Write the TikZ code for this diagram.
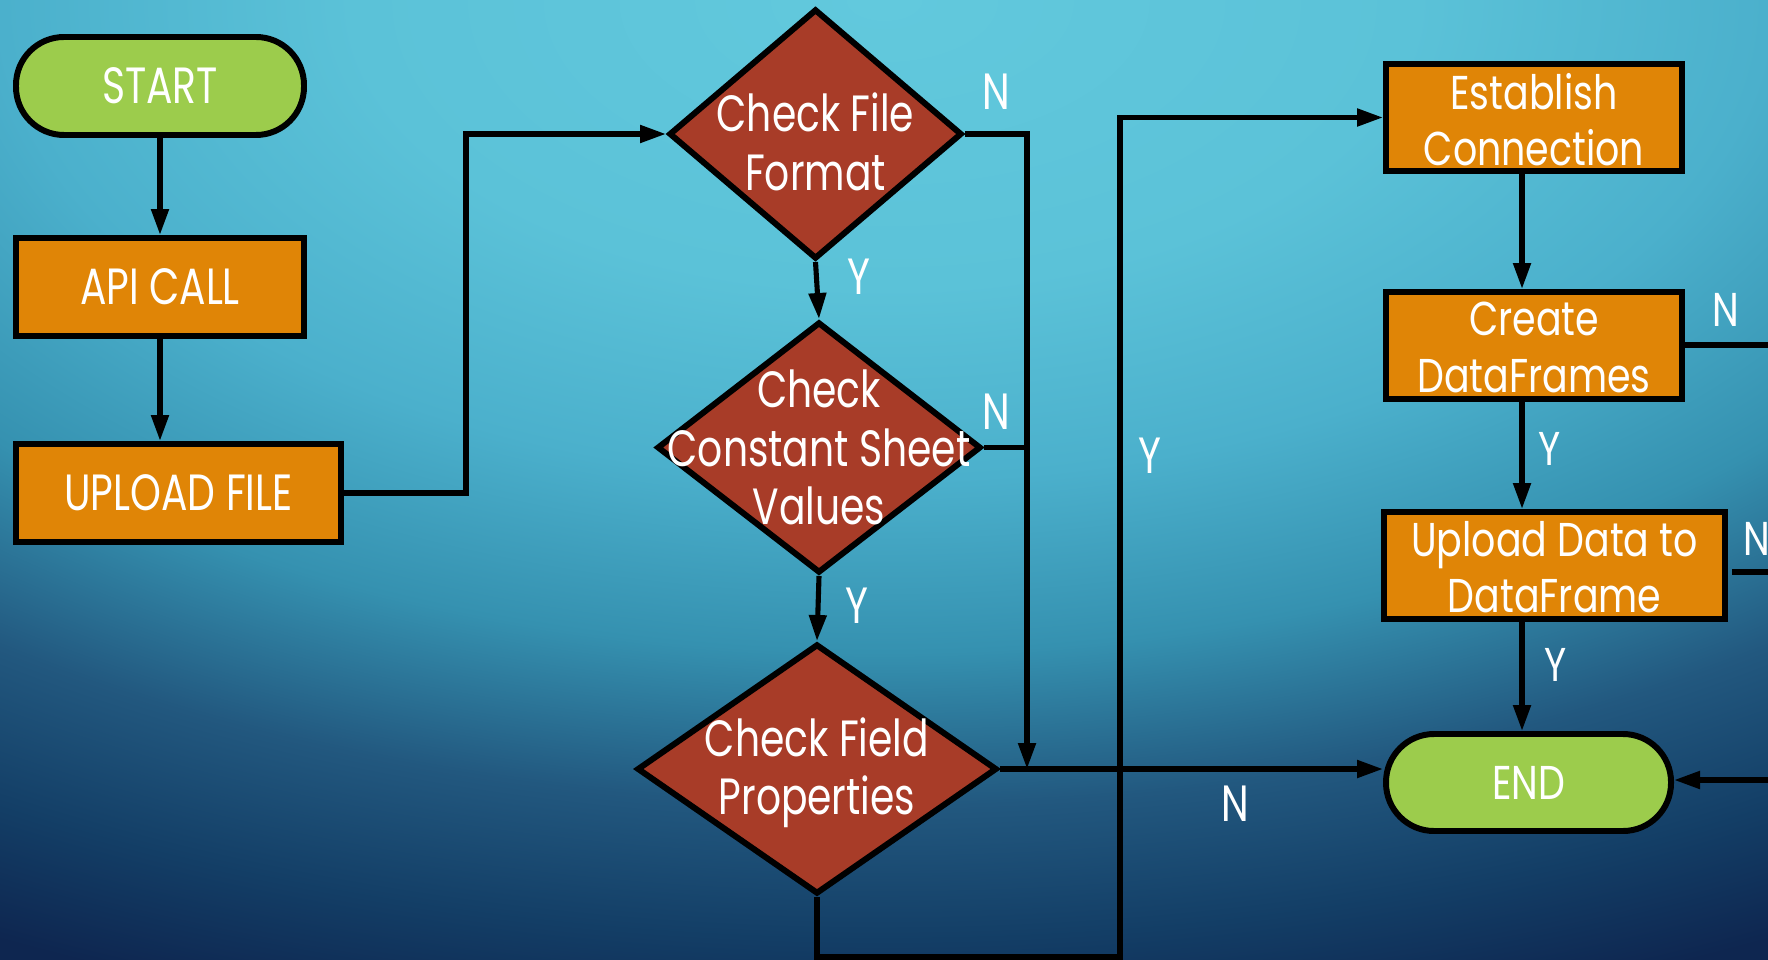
\documentclass[tikz,border=0pt]{standalone}
\usepackage{fontspec}
\setmainfont{Poppins}
\newfontfamily\condfont[FakeStretch=0.77]{Poppins}
\newfontfamily\widefont[FakeStretch=0.8]{Poppins}
\usetikzlibrary{shapes.geometric,arrows.meta,calc}
\definecolor{bga}{HTML}{62C9DD}
\definecolor{bgb}{HTML}{5BC2D8}
\definecolor{bgc}{HTML}{4BB0CC}
\definecolor{bgd}{HTML}{3591B0}
\definecolor{bge}{HTML}{22587F}
\definecolor{bgf}{HTML}{133E66}
\definecolor{bgg}{HTML}{0E2650}
\pgfdeclareradialshading{bgrad}{\pgfpoint{0bp}{0bp}}{color(0bp)=(bga); color(7.5bp)=(bgb); color(12.5bp)=(bgc); color(17bp)=(bgd); color(21bp)=(bge); color(24.5bp)=(bgf); color(27.5bp)=(bgg); color(80bp)=(bgg)}
\definecolor{termgreen}{HTML}{9CCC4C}
\definecolor{boxorange}{HTML}{E08506}
\definecolor{diared}{HTML}{A83C28}
\tikzset{
  border/.style={draw=black, line width=1.7pt},
  term/.style={border, fill=termgreen, rounded corners=0.48cm, minimum width=2.88cm, minimum height=0.98cm, inner sep=0pt},
  procbox/.style={border, fill=boxorange, minimum height=0.98cm, inner sep=0pt},
  dia/.style={border, fill=diared, diamond, inner sep=0pt, line join=miter},
  ltxt/.style={text=white, font=\condfont\fontsize{14.5}{16.6}\selectfont, align=center, inner sep=0pt},
  rtxt/.style={text=white, font=\widefont\fontsize{13.5}{16}\selectfont, align=center, inner sep=0pt},
  yn/.style={text=white, font=\condfont\fontsize{14.5}{16}\selectfont, inner sep=0pt},
  ynr/.style={yn, font=\widefont\fontsize{13.5}{16}\selectfont},
  conn/.style={draw=black, line width=1.45pt},
  arr/.style={conn, -{Triangle[length=0.26cm,width=0.17cm]}}
}
\begin{document}
\begin{tikzpicture}
\useasboundingbox (0,0) rectangle (17.68,-9.59);
\begin{scope}
\clip (0,0) rectangle (17.68,-9.59);
\shade[shading=bgrad] (-8.84,9.59) rectangle (26.52,-9.59);
\end{scope}

% nodes
\node[term] (start) at (1.60,-0.86) {};
\node[ltxt] (starttxt) at (start) {START};
\node[procbox, minimum width=2.88cm] (api) at (1.60,-2.87) {};
\node[ltxt] (apitxt) at (api) {API CALL};
\node[procbox, minimum width=3.25cm] (upl) at (1.785,-4.93) {};
\node[ltxt] (upltxt) at (upl) {UPLOAD FILE};

\node[dia, minimum width=2.93cm, minimum height=2.50cm] (cff) at (8.155,-1.34) {};
\node[ltxt] (cfftxt) at ($(cff)+(0,-0.08)$) {Check File\\Format};
\node[dia, minimum width=3.24cm, minimum height=2.51cm] (ccsv) at (8.19,-4.475) {};
\node[ltxt] (ccsvtxt) at (ccsv) {Check\\Constant Sheet\\Values};
\node[dia, minimum width=3.60cm, minimum height=2.50cm] (cfp) at (8.17,-7.69) {};
\node[ltxt] (cfptxt) at ($(cfp)+(0,-0.04)$) {Check Field\\Properties};

\node[procbox, minimum width=2.96cm, minimum height=1.07cm] (ec) at (15.34,-1.175) {};
\node[rtxt] (ectxt) at ($(ec)+(0,-0.02)$) {Establish\\Connection};
\node[procbox, minimum width=2.96cm, minimum height=1.07cm] (cdf) at (15.34,-3.455) {};
\node[rtxt] (cdftxt) at ($(cdf)+(0,-0.02)$) {Create\\DataFrames};
\node[procbox, minimum width=3.41cm, minimum height=1.07cm] (udd) at (15.545,-5.655) {};
\node[rtxt] (uddtxt) at ($(udd)+(0,-0.02)$) {Upload Data to\\DataFrame};
\node[term, minimum width=2.85cm, minimum height=0.97cm] (end) at (15.285,-7.825) {};
\node[rtxt] (endtxt) at (end) {END};

% helper coordinates
\coordinate (jn) at (10.27,-7.69);
\coordinate (xr) at (15.22,0);
\coordinate (bot) at (11.20,-9.57);
\coordinate (edge1) at (17.68,-3.45);
\coordinate (udds) at (17.32,-5.72);
\coordinate (edge2) at (17.68,-5.72);
\coordinate (edge3) at (17.68,-7.80);

% connectors
\draw[arr] (start.south) -- (api.north);
\draw[arr] (api.south) -- (api.south |- upl.north);
\draw[arr] (upl.east) -- ++(1.22,0) |- (cff.west);
\draw[arr] (cff.south) -- (ccsv.north);
\draw[arr] (ccsv.south) -- (cfp.north);
\draw[arr] (cff.east) -| (jn);
\draw[conn] (ccsv.east) -- (ccsv.east -| jn);
\draw[arr] (cfp.east) -- (cfp.east -| end.west);
\draw[arr] (cfp.south) |- (bot) |- (ec.west);
\draw[arr] (ec.south -| xr) -- (cdf.north -| xr);
\draw[arr] (cdf.south -| xr) -- (udd.north -| xr);
\draw[arr] (udd.south -| xr) -- (end.north -| xr);
\draw[conn] (cdf.east |- edge1) -- (edge1);
\draw[conn] (udds) -- (edge2);
\draw[arr] (edge3) -- (end.east |- edge3);

% labels
\node[yn] (l1) at (8.59,-2.77) {Y};
\node[yn] (l2) at (8.57,-6.06) {Y};
\node[yn] (l3) at (9.96,-0.92) {N};
\node[yn] (l4) at (9.96,-4.12) {N};
\node[yn] (l5) at (11.50,-4.56) {Y};
\node[yn] (l6) at (12.35,-8.04) {N};
\node[ynr] (l7) at (15.50,-4.49) {Y};
\node[ynr] (l8) at (15.56,-6.65) {Y};
\node[ynr] (l9) at (17.26,-3.10) {N};
\node[ynr, anchor=west] (l10) at (17.43,-5.39) {N};
\end{tikzpicture}
\end{document}
